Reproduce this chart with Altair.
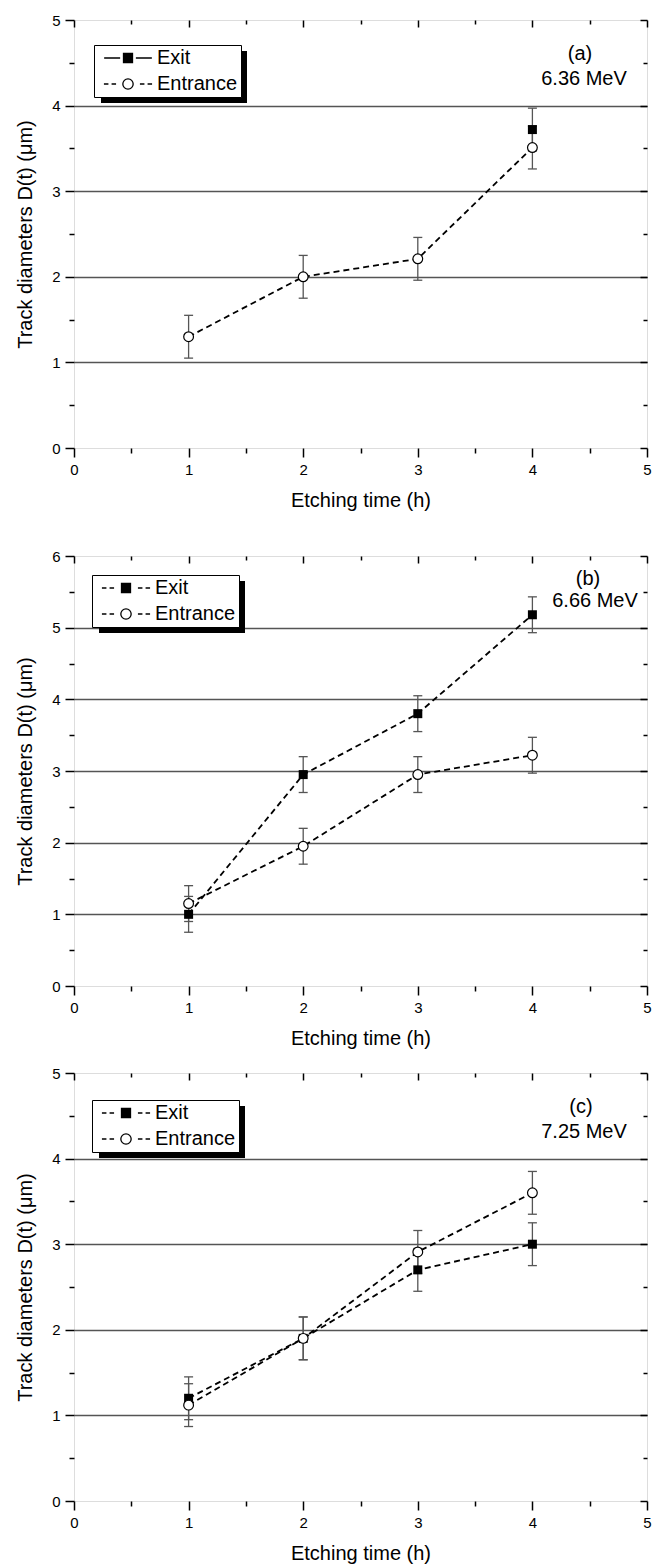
import altair as alt
import pandas as pd

FONT = "Liberation Sans"

# ---------------- data ----------------
series_order = ["Exit", "Entrance"]

# panel (a) 6.36 MeV
a_exit_hours = [4]
a_exit = [3.72]
a_exit_err = [0.25]
a_ent_hours = [1, 2, 3, 4]
a_ent = [1.30, 2.00, 2.21, 3.51]
a_ent_err = [0.25, 0.25, 0.25, 0.25]

# panel (b) 6.66 MeV
b_exit_hours = [1, 2, 3, 4]
b_exit = [1.00, 2.95, 3.80, 5.18]
b_exit_err = [0.25, 0.25, 0.25, 0.25]
b_ent_hours = [1, 2, 3, 4]
b_ent = [1.15, 1.95, 2.95, 3.22]
b_ent_err = [0.25, 0.25, 0.25, 0.25]

# panel (c) 7.25 MeV
c_exit_hours = [1, 2, 3, 4]
c_exit = [1.20, 1.90, 2.70, 3.00]
c_exit_err = [0.25, 0.25, 0.25, 0.25]
c_ent_hours = [1, 2, 3, 4]
c_ent = [1.12, 1.90, 2.91, 3.60]
c_ent_err = [0.25, 0.25, 0.25, 0.25]


def build_frame(eh, ev, ee, nh, nv, ne):
    rows = []
    for h, v, e in zip(eh, ev, ee):
        rows.append({"t": h, "d": v, "s": "Exit", "lo": v - e, "hi": v + e})
    for h, v, e in zip(nh, nv, ne):
        rows.append({"t": h, "d": v, "s": "Entrance", "lo": v - e, "hi": v + e})
    return pd.DataFrame(rows)


IS_INT = "datum.value % 1 === 0"
INT_LABEL = f"{IS_INT} ? format(datum.value, 'd') : ''"

# legend symbol paths (unit = sqrt(symbolSize)/2)
DASHES = "M-5.35,0H-4.35M-3.65,0H-2.65M2.65,0H3.65M4.35,0H5.35"
SOLID = "M-5.3,0H-1.75M1.75,0H5.3"
SQUARE = "M-1,-1H1V1H-1Z"
CIRCLE = "M1.15,0A1.15,1.15,0,1,1,-1.15,0A1.15,1.15,0,1,1,1.15,0Z"

LEG_W, LEG_H = 147, 52


def panel(df, ymax, h, lx, ly, exit_solid, tag, tag_xy, energy, energy_xy):
    xsc = alt.Scale(domain=[0, 5], nice=False, zero=False)
    ysc = alt.Scale(domain=[0, ymax], nice=False, zero=False)
    xv = [i / 2 for i in range(11)]
    yv = [i / 2 for i in range(2 * ymax + 1)]

    common = dict(domain=False, tickColor="black", tickWidth=1.5,
                  labelFont=FONT, labelFontSize=15, labelColor="black",
                  titleFont=FONT, titleFontSize=20, titleFontWeight="normal",
                  titleColor="black", labelFlush=False)
    out_ticks = {"condition": {"test": IS_INT, "value": 9}, "value": 5}
    in_ticks = {"condition": {"test": IS_INT, "value": -7}, "value": -4}

    x_bottom = alt.Axis(orient="bottom", values=xv, title="Etching time (h)",
                        labelExpr=INT_LABEL, tickSize=out_ticks,
                        grid=False, labelPadding=5, titlePadding=13, **common)
    y_left = alt.Axis(orient="left", values=yv, title="Track diameters D(t) (μm)",
                      labelExpr=INT_LABEL, tickSize=out_ticks,
                      grid=True, gridColor="#555555", gridWidth=1.3,
                      gridOpacity={"condition": {"test": f"{IS_INT} && datum.value > 0 && datum.value < {ymax}",
                                                 "value": 1}, "value": 0},
                      labelPadding=5, titlePadding=16, **common)
    x_top = alt.Axis(orient="top", values=xv, labels=False, title=None, domain=False,
                     grid=False, tickColor="black", tickWidth=1.5, tickSize=in_ticks)
    y_right = alt.Axis(orient="right", values=yv, labels=False, title=None, domain=False,
                       grid=False, tickColor="black", tickWidth=1.5, tickSize=in_ticks)

    exit_path = (SOLID if exit_solid else DASHES) + SQUARE
    ent_path = DASHES + CIRCLE
    leg = alt.Legend(
        orient="none", legendX=lx, legendY=ly, title=None, direction="vertical",
        strokeColor="black", fillColor="white", padding=3, cornerRadius=0,
        labelFont=FONT, labelFontSize=20, labelColor="black", labelOffset=19,
        labelLimit=300, symbolSize=81, symbolOffset=21, symbolStrokeWidth=1.3,
        symbolStrokeColor="black", symbolOpacity=1, rowPadding=6,
    )

    base = alt.Chart(df)
    xq = alt.X("t:Q", scale=xsc, axis=None)
    bars = base.mark_rule(color="#555555", strokeWidth=1.3).encode(
        x=alt.X("t:Q", scale=xsc, axis=x_top),
        y=alt.Y("lo:Q", scale=ysc, axis=y_right),
        y2="hi:Q",
    )
    cap_lo = base.mark_tick(orient="horizontal", size=9, thickness=1.3,
                            color="#555555", opacity=1).encode(
        x=xq, y=alt.Y("lo:Q", scale=ysc, axis=None))
    cap_hi = base.mark_tick(orient="horizontal", size=9, thickness=1.3,
                            color="#555555", opacity=1).encode(
        x=xq, y=alt.Y("hi:Q", scale=ysc, axis=None))
    lines = base.mark_line(color="black", strokeWidth=1.8, strokeDash=[6, 4]).encode(
        x=alt.X("t:Q", scale=xsc, axis=x_bottom),
        y=alt.Y("d:Q", scale=ysc, axis=y_left),
        detail="s:N",
    )
    yq = alt.Y("d:Q", scale=ysc, axis=None)
    exit_pts = base.transform_filter("datum.s === 'Exit'").mark_square(
        size=81, color="black", opacity=1).encode(x=xq, y=yq)
    ent_pts = base.transform_filter("datum.s === 'Entrance'").mark_circle(
        size=95, fill="white", stroke="black", strokeWidth=1.2, opacity=1).encode(x=xq, y=yq)
    legend_layer = base.mark_point(filled=False, opacity=0, strokeWidth=1.3).encode(
        x=xq, y=yq,
        shape=alt.Shape("s:N", scale=alt.Scale(domain=series_order, range=[exit_path, ent_path]),
                        legend=leg),
        fill=alt.Fill("s:N", scale=alt.Scale(domain=series_order, range=["black", "white"]),
                      legend=leg),
        stroke=alt.Stroke("s:N", scale=alt.Scale(domain=series_order, range=["black", "black"]),
                          legend=leg),
    )
    one = alt.Data(values=[{"k": 1}])
    shadow = alt.Chart(one).mark_rect(color="black").encode(
        x=alt.value(lx + 7), x2=alt.value(lx + LEG_W + 6),
        y=alt.value(ly + 6), y2=alt.value(ly + LEG_H + 6),
    )
    tag_txt = alt.Chart(one).mark_text(font=FONT, fontSize=20, color="black",
                                       align="center", baseline="middle").encode(
        x=alt.value(tag_xy[0]), y=alt.value(tag_xy[1]), text=alt.value(tag))
    en_txt = alt.Chart(one).mark_text(font=FONT, fontSize=20, color="black",
                                      align="center", baseline="middle").encode(
        x=alt.value(energy_xy[0]), y=alt.value(energy_xy[1]), text=alt.value(energy))

    return alt.layer(bars, cap_lo, cap_hi, lines, exit_pts, ent_pts, legend_layer,
                     shadow, tag_txt, en_txt).resolve_axis(
        x="independent", y="independent").properties(width=573, height=h)


df_a = build_frame(a_exit_hours, a_exit, a_exit_err, a_ent_hours, a_ent, a_ent_err)
df_b = build_frame(b_exit_hours, b_exit, b_exit_err, b_ent_hours, b_ent, b_ent_err)
df_c = build_frame(c_exit_hours, c_exit, c_exit_err, c_ent_hours, c_ent, c_ent_err)

pa = panel(df_a, 5, 428, 20, 25, True, "(a)", (506, 34), "6.36 MeV", (510, 59))
pb = panel(df_b, 6, 430, 18, 19, False, "(b)", (514, 23), "6.66 MeV", (521, 45))
pc = panel(df_c, 5, 428, 18, 27, False, "(c)", (507, 34), "7.25 MeV", (510, 59))

top2 = alt.vconcat(pa, pb, spacing=37).resolve_scale(
    shape="independent", fill="independent", stroke="independent").resolve_legend(
    shape="independent", fill="independent", stroke="independent")

chart = alt.vconcat(top2, pc, spacing=16).resolve_scale(
    shape="independent", fill="independent", stroke="independent").resolve_legend(
    shape="independent", fill="independent", stroke="independent").properties(
    padding={"left": 15, "top": 12, "right": 5, "bottom": 0}
).configure_view(stroke="black", strokeWidth=2).configure(font=FONT)

chart.save("out.html", embed_options={"renderer": "svg", "actions": False})
